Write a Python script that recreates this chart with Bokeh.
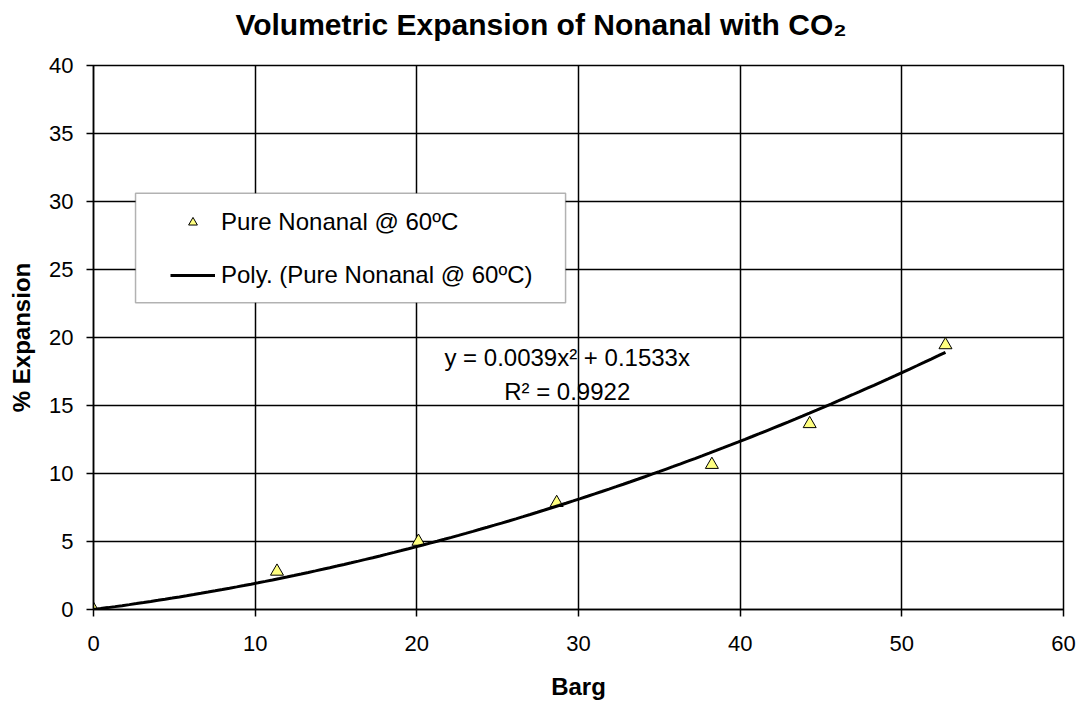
from bokeh.plotting import figure
from bokeh.models import Legend, LegendItem, Label, FixedTicker, Range1d, BoxAnnotation, Div
from bokeh.layouts import column
from bokeh.embed import file_html
from bokeh.resources import INLINE
import numpy as np

# ---- data ----
barg = [0.0, 11.35, 20.1, 28.65, 38.25, 44.3, 52.7]
expansion = [0.0, 2.8, 5.0, 7.85, 10.65, 13.65, 19.45]
fit_coef = [0.0039, 0.1533, 0.0]          # y = a x^2 + b x + c (Excel trendline)
fit_x_range = [0.0, 52.7]
x_ticks = [0, 10, 20, 30, 40, 50, 60]
y_ticks = [0, 5, 10, 15, 20, 25, 30, 35, 40]
title_text = "Volumetric Expansion of Nonanal with CO\u2082"
series_label = "Pure Nonanal @ 60\u00baC"
fit_label = "Poly. (Pure Nonanal @ 60\u00baC)"
eq_text = "y = 0.0039x\u00b2 + 0.1533x"
r2_text = "R\u00b2 = 0.9922"

FONT = "Liberation Sans"

title_div = Div(text=title_text, width=1082, height=50, margin=0,
                styles={"font-family": FONT, "font-size": "30px",
                        "font-weight": "bold", "text-align": "center",
                        "line-height": "50px", "color": "black",
                        "white-space": "nowrap"})

p = figure(frame_width=970, frame_height=544,
           x_range=Range1d(0, 60), y_range=Range1d(0, 40),
           output_backend="svg", toolbar_location=None,
           min_border_left=93, min_border_right=17,
           min_border_top=15, min_border_bottom=93, margin=0)

fx = np.linspace(fit_x_range[0], fit_x_range[1], 120)
fy = np.polyval(fit_coef, fx)

r_pts = p.scatter(barg, expansion, marker="triangle", size=13,
                  fill_color="#FFFF80", line_color="black", line_width=1)
r_fit = p.line(fx, fy, line_color="black", line_width=3)

p.background_fill_color = "white"
p.border_fill_color = "white"
p.outline_line_color = "black"
p.outline_line_width = 1.5

for ax, ticks in ((p.xaxis, x_ticks), (p.yaxis, y_ticks)):
    ax.ticker = FixedTicker(ticks=ticks)
    ax.axis_line_color = "black"
    ax.axis_line_width = 1.5
    ax.major_tick_line_color = "black"
    ax.major_tick_line_width = 1.5
    ax.major_tick_in = 0
    ax.major_tick_out = 7
    ax.minor_tick_line_color = None
    ax.major_label_text_font = FONT
    ax.major_label_text_font_size = "22px"
    ax.major_label_text_color = "black"
    ax.axis_label_text_font = FONT
    ax.axis_label_text_font_size = "24px"
    ax.axis_label_text_font_style = "bold"
    ax.axis_label_text_color = "black"

p.xaxis.axis_label = "Barg"
p.yaxis.axis_label = "% Expansion"
p.xaxis.major_label_standoff = 19
p.xaxis.axis_label_standoff = 19
p.yaxis.major_label_standoff = 13
p.yaxis.axis_label_standoff = 11

p.xgrid.ticker = FixedTicker(ticks=x_ticks)
p.ygrid.ticker = FixedTicker(ticks=y_ticks)
for g in (p.xgrid, p.ygrid):
    g.grid_line_color = "black"
    g.grid_line_width = 1.5

# legend frame (white box with black border, as in the Excel legend)
p.add_layout(BoxAnnotation(left=2.6, right=29.2, bottom=22.55, top=30.6,
                           fill_color="white", fill_alpha=1.0,
                           line_color="black", line_width=1.5))

legend = Legend(items=[LegendItem(label=series_label, renderers=[r_pts]),
                       LegendItem(label=fit_label, renderers=[r_fit])],
                location=(77, 320), orientation="vertical",
                border_line_color=None,
                background_fill_alpha=0.0,
                label_text_font=FONT, label_text_font_size="24px",
                label_text_color="black",
                glyph_width=45, glyph_height=22, label_height=22,
                spacing=25, padding=0, label_standoff=6, margin=0)
p.add_layout(legend)

for txt, yv in ((eq_text, 18.5), (r2_text, 16.0)):
    p.add_layout(Label(x=29.3, y=yv, text=txt, text_align="center",
                       text_baseline="middle", text_font=FONT,
                       text_font_size="24px", text_color="black"))

layout = column(title_div, p, spacing=0, margin=0)
open("out.html", "w").write(file_html(layout, INLINE))
